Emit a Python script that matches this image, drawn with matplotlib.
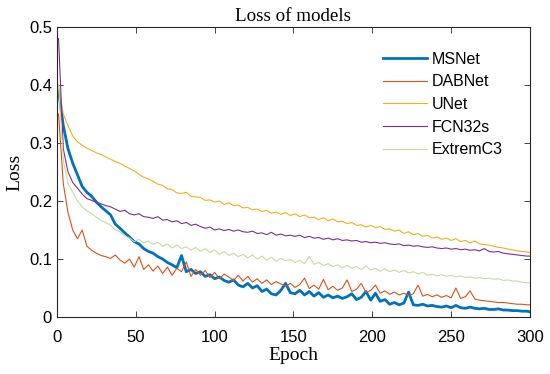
import numpy as np
import matplotlib
matplotlib.use('Agg')
import matplotlib.pyplot as plt

# epochs sampled every 3 (plus the last one)
epochs = list(range(1, 299, 3)) + [300]

msnet = [0.390, 0.330, 0.290, 0.265, 0.245, 0.225, 0.215, 0.208, 0.198, 0.190,
         0.183, 0.176, 0.160, 0.153, 0.145, 0.138, 0.130, 0.126, 0.118, 0.113,
         0.110, 0.104, 0.100, 0.094, 0.090, 0.085, 0.106, 0.078, 0.082, 0.075,
         0.078, 0.070, 0.073, 0.066, 0.069, 0.063, 0.060, 0.064, 0.055, 0.052,
         0.058, 0.050, 0.054, 0.044, 0.048, 0.040, 0.038, 0.046, 0.058, 0.042,
         0.040, 0.046, 0.038, 0.044, 0.036, 0.042, 0.034, 0.038, 0.033, 0.036,
         0.032, 0.035, 0.040, 0.030, 0.034, 0.044, 0.029, 0.041, 0.027, 0.030,
         0.022, 0.025, 0.021, 0.024, 0.043, 0.021, 0.020, 0.022, 0.019, 0.020,
         0.018, 0.017, 0.019, 0.016, 0.020, 0.016, 0.015, 0.017, 0.015, 0.014,
         0.015, 0.013, 0.013, 0.014, 0.012, 0.012, 0.011, 0.011, 0.010, 0.010,
         0.009]

dabnet = [0.350, 0.230, 0.180, 0.150, 0.135, 0.150, 0.122, 0.115, 0.110, 0.106,
          0.104, 0.101, 0.107, 0.098, 0.093, 0.100, 0.086, 0.104, 0.082, 0.090,
          0.079, 0.088, 0.075, 0.086, 0.072, 0.084, 0.078, 0.095, 0.070, 0.082,
          0.072, 0.080, 0.068, 0.077, 0.066, 0.074, 0.069, 0.063, 0.072, 0.062,
          0.070, 0.060, 0.066, 0.058, 0.064, 0.056, 0.061, 0.057, 0.053, 0.058,
          0.051, 0.056, 0.067, 0.049, 0.055, 0.048, 0.065, 0.047, 0.053, 0.046,
          0.050, 0.064, 0.044, 0.048, 0.058, 0.042, 0.046, 0.055, 0.041, 0.045,
          0.039, 0.043, 0.038, 0.041, 0.037, 0.040, 0.055, 0.036, 0.039, 0.035,
          0.038, 0.034, 0.037, 0.033, 0.050, 0.032, 0.035, 0.045, 0.031, 0.029,
          0.028, 0.027, 0.026, 0.025, 0.025, 0.024, 0.023, 0.022, 0.022, 0.021,
          0.021]

unet = [0.400, 0.350, 0.330, 0.312, 0.302, 0.296, 0.291, 0.287, 0.283, 0.280,
        0.276, 0.272, 0.268, 0.265, 0.260, 0.256, 0.252, 0.246, 0.241, 0.238,
        0.234, 0.229, 0.227, 0.221, 0.220, 0.214, 0.213, 0.215, 0.208, 0.207,
        0.206, 0.201, 0.202, 0.198, 0.200, 0.194, 0.197, 0.192, 0.193, 0.188,
        0.189, 0.185, 0.186, 0.182, 0.184, 0.179, 0.181, 0.177, 0.180, 0.175,
        0.178, 0.173, 0.176, 0.171, 0.172, 0.168, 0.171, 0.166, 0.169, 0.164,
        0.165, 0.161, 0.163, 0.158, 0.159, 0.155, 0.158, 0.154, 0.156, 0.151,
        0.152, 0.148, 0.150, 0.144, 0.147, 0.142, 0.144, 0.139, 0.141, 0.136,
        0.138, 0.134, 0.136, 0.132, 0.135, 0.130, 0.132, 0.128, 0.131, 0.126,
        0.125, 0.124, 0.122, 0.120, 0.119, 0.117, 0.116, 0.114, 0.113, 0.112,
        0.111]

fcn32s = [0.480, 0.290, 0.250, 0.232, 0.222, 0.212, 0.204, 0.201, 0.198, 0.195,
          0.192, 0.190, 0.186, 0.182, 0.184, 0.178, 0.176, 0.178, 0.173, 0.172,
          0.170, 0.173, 0.167, 0.168, 0.164, 0.166, 0.161, 0.163, 0.158, 0.160,
          0.156, 0.153, 0.155, 0.150, 0.152, 0.149, 0.151, 0.148, 0.150, 0.147,
          0.146, 0.148, 0.144, 0.145, 0.142, 0.146, 0.141, 0.143, 0.140, 0.141,
          0.139, 0.141, 0.137, 0.139, 0.136, 0.137, 0.134, 0.136, 0.133, 0.135,
          0.132, 0.133, 0.131, 0.132, 0.129, 0.130, 0.128, 0.129, 0.127, 0.128,
          0.126, 0.125, 0.126, 0.123, 0.124, 0.122, 0.123, 0.121, 0.120, 0.121,
          0.119, 0.118, 0.119, 0.117, 0.118, 0.116, 0.117, 0.115, 0.116, 0.114,
          0.118, 0.113, 0.112, 0.113, 0.110, 0.109, 0.108, 0.107, 0.106, 0.105,
          0.105]

extremc3 = [0.400, 0.270, 0.230, 0.215, 0.200, 0.190, 0.183, 0.178, 0.172, 0.166,
            0.163, 0.158, 0.150, 0.147, 0.140, 0.136, 0.130, 0.134, 0.128, 0.131,
            0.125, 0.129, 0.122, 0.126, 0.119, 0.124, 0.118, 0.121, 0.115, 0.120,
            0.113, 0.118, 0.111, 0.116, 0.108, 0.113, 0.106, 0.110, 0.104, 0.108,
            0.102, 0.107, 0.100, 0.105, 0.098, 0.103, 0.096, 0.101, 0.097, 0.099,
            0.094, 0.098, 0.092, 0.104, 0.091, 0.094, 0.089, 0.092, 0.087, 0.090,
            0.085, 0.089, 0.084, 0.087, 0.082, 0.088, 0.081, 0.084, 0.079, 0.083,
            0.078, 0.081, 0.077, 0.080, 0.076, 0.078, 0.074, 0.077, 0.072, 0.074,
            0.071, 0.073, 0.070, 0.072, 0.069, 0.071, 0.068, 0.069, 0.067, 0.068,
            0.066, 0.067, 0.065, 0.066, 0.063, 0.064, 0.062, 0.062, 0.060, 0.059,
            0.059]

names = ['MSNet', 'DABNet', 'UNet', 'FCN32s', 'ExtremC3']
series = [msnet, dabnet, unet, fcn32s, extremc3]
colors = ['#0072BD', '#D95319', '#EDB120', '#7E2F8E', '#C4DDA0']
widths = [2.0, 0.8, 0.8, 0.8, 0.8]

xticks = [0, 50, 100, 150, 200, 250, 300]
yticks = [0, 0.1, 0.2, 0.3, 0.4, 0.5]
ylabels = ['0', '0.1', '0.2', '0.3', '0.4', '0.5']

fig = plt.figure(figsize=(5.5, 3.74), dpi=100)
ax = fig.add_axes([0.1036, 0.1524, 0.86, 0.7754])

for name, ys, c, w in zip(names, series, colors, widths):
    ax.plot(epochs, ys, color=c, lw=w, label=name)

ax.set_xlim(0, 300)
ax.set_ylim(0, 0.5)
ax.set_xticks(xticks)
ax.set_xticklabels([str(t) for t in xticks])
ax.set_yticks(yticks)
ax.set_yticklabels(ylabels)

dark = '#262626'
ax.tick_params(direction='in', top=True, right=True, length=4, width=0.6,
               colors=dark, labelsize=12, labelcolor='black')
ax.tick_params(axis='x', pad=9)
for lab in ax.get_xticklabels() + ax.get_yticklabels():
    lab.set_fontfamily('Liberation Sans')
for s in ax.spines.values():
    s.set_color(dark)
    s.set_linewidth(0.8)

serif = 'Liberation Serif'
ax.set_title('Loss of models', fontfamily=serif, fontsize=13.7, pad=4)
ax.set_xlabel('Epoch', fontfamily=serif, fontsize=14, labelpad=2)
ax.set_ylabel('Loss', fontfamily=serif, fontsize=14, labelpad=4)

leg = ax.legend(loc='upper left', bbox_to_anchor=(0.689, 0.915), frameon=False,
                borderaxespad=0, borderpad=0, handlelength=2.75, handletextpad=0.3,
                labelspacing=0.48, prop={'family': 'Liberation Sans', 'size': 11.5})

fig.savefig('out.png', dpi=100)
